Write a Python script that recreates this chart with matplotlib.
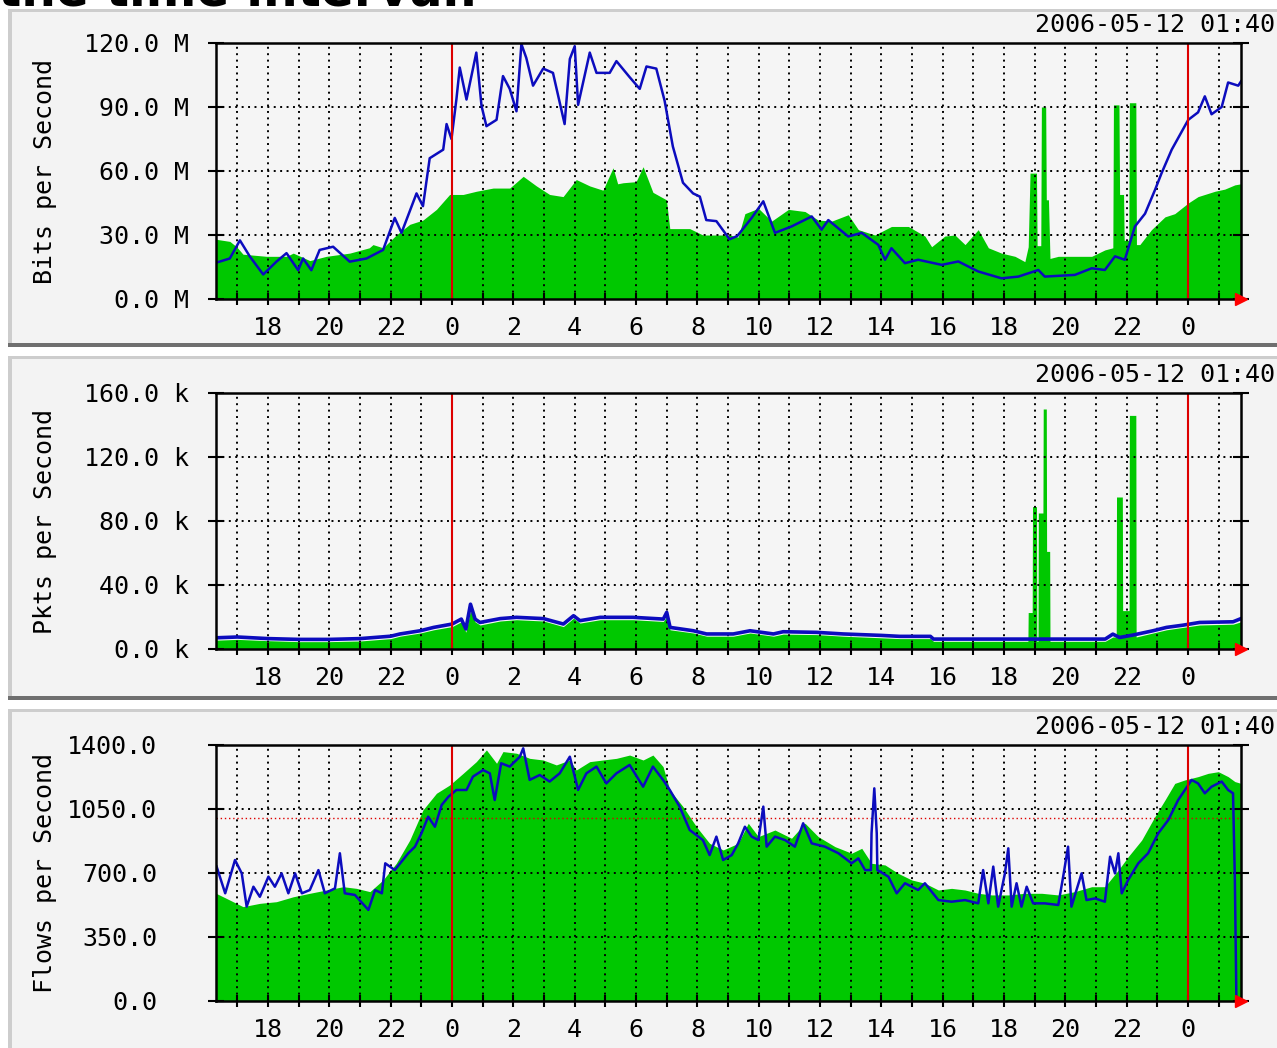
import matplotlib
matplotlib.use("Agg")
import matplotlib.pyplot as plt
from matplotlib.patches import Rectangle

# ==== DATA (hours since day 1 00:00; 24 = midnight, 48 = next midnight) ====
bits_in_h = [16.3, 16.75, 16.97, 17.18, 17.95, 18.6, 18.82, 19.36, 19.9, 20.66, 21.3, 21.42, 21.75,
             22.18, 22.62, 23.05, 23.49, 23.92, 24.36, 24.79, 25.34, 25.88, 26.32, 26.75, 27.18, 27.62,
             28.05, 28.49, 28.92, 29.25, 29.4, 29.58, 30.0, 30.23, 30.55, 30.99, 31.1, 31.75, 32.18,
             33.05, 33.33, 33.55, 33.99, 34.42, 34.97, 35.51, 35.94, 36.38, 36.92, 37.25, 37.79, 38.33,
             38.88, 39.42, 39.64, 40.07, 40.4, 40.73, 41.16, 41.49, 41.92, 42.36, 42.68, 42.79, 42.85,
             43.06, 43.08, 43.2, 43.22, 43.36, 43.38, 43.45, 43.5, 43.77, 44.86, 45.29, 45.55, 45.57,
             45.75, 45.77, 45.9, 45.92, 46.07, 46.09, 46.3, 46.32, 46.43, 46.81, 47.25, 47.57, 48.01,
             48.33, 48.88, 49.2, 49.53, 49.73]
bits_in = [28, 27, 24.5, 21, 20, 20, 21.5, 18, 20, 21.5, 24, 25.5, 24,
           30, 35, 37, 42, 49, 49, 50.5, 52, 52, 57.5, 53, 49, 48,
           56, 53, 51, 61.5, 54, 54.5, 55, 62, 50, 46.5, 33, 33, 30,
           30, 29, 40, 42.5, 36.5, 42, 41, 37, 36.5, 39.5, 32.5, 30, 34,
           34, 29.5, 24.5, 29.5, 30, 25.5, 32.5, 24, 21.5, 20, 17.5, 24.5, 59,
           59, 25, 25, 90, 90, 46.5, 46.5, 19, 20, 20, 23, 24, 91,
           91, 49, 49, 27.5, 27.5, 92, 92, 25.5, 25.5, 32.5, 38.5, 40, 45,
           48, 50.5, 51.5, 53.5, 54]

bits_out_h = [16.3, 16.75, 17.08, 17.4, 17.84, 18.27, 18.6, 18.98, 19.14, 19.41, 19.68, 20.12, 20.66,
              21.21, 21.75, 22.13, 22.35, 22.84, 23.05, 23.27, 23.71, 23.82, 23.98, 24.14, 24.25, 24.47,
              24.79, 24.96, 25.12, 25.45, 25.66, 25.88, 26.1, 26.26, 26.42, 26.64, 26.97, 27.29, 27.67,
              27.84, 28.0, 28.11, 28.49, 28.71, 29.14, 29.36, 29.79, 30.12, 30.34, 30.66, 30.93, 31.2,
              31.53, 31.86, 32.08, 32.29, 32.62, 33.05, 33.3, 33.77, 34.15, 34.53, 35.07, 35.73, 36.05,
              36.27, 36.92, 37.36, 37.9, 38.12, 38.33, 38.77, 39.2, 39.97, 40.51, 41.16, 41.92, 42.47,
              43.12, 43.33, 44.31, 44.86, 45.29, 45.62, 45.94, 46.27, 46.6, 46.93, 47.14, 47.47, 47.74,
              48.01, 48.33, 48.55, 48.77, 49.1, 49.31, 49.64, 49.73]
bits_out = [17, 19, 27.5, 20, 11.5, 17.5, 21.5, 13.5, 19, 13.5, 23, 24.5, 17.5,
            19, 23, 38, 31, 49.5, 43.5, 66, 70, 82, 75, 93.5, 108.5, 93.5,
            115.5, 90.5, 81, 84, 104.5, 98.5, 88, 119.5, 113, 100, 108, 106, 82,
            112.5, 118.5, 91, 115.5, 106, 106, 111.5, 104, 98.5, 109, 108, 93, 71.5,
            54.5, 49.5, 48, 37, 36.5, 28, 29.5, 38, 45.8, 31, 34, 38.7, 32.5,
            37, 29.3, 31, 25.4, 18.4, 23.8, 16.8, 18.4, 16, 17.6, 12.9, 9.7, 10.5,
            13.6, 10.5, 11.3, 14.4, 13.6, 20, 18.4, 34, 40, 51.3, 59, 70, 77,
            84, 87.5, 95, 86.6, 90, 101.5, 100, 102]

pkts_in_h = [16.3, 17.0, 18.0, 19.0, 20.0, 21.0, 22.0, 22.3, 22.96, 23.4, 24.0, 24.3, 24.45, 24.6,
             24.75, 24.91, 25.57, 26.1, 26.98, 27.63, 27.96, 28.17, 28.83, 29.9, 30.89, 31.0, 31.11,
             31.87, 32.3, 33.17, 33.72, 34.48, 34.8, 35.89, 36.76, 38.0, 38.6, 39.6, 39.7, 42.78,
             42.79, 42.92, 42.93, 43.06, 43.07, 43.11, 43.12, 43.27, 43.28, 43.38, 43.39, 43.49, 43.5,
             45.3, 45.55, 45.66, 45.67, 45.86, 45.87, 46.08, 46.09, 46.3, 46.31, 46.86, 47.3, 47.84,
             48.38, 49.47, 49.73]
pkts_in = [5.5, 6, 5.2, 4.6, 4.6, 5, 6.5, 8, 10, 12, 14, 17, 10.5, 24,
           17, 15, 17.5, 18.3, 17.5, 14, 19.3, 16.2, 18.3, 18.3, 17.2, 20.5, 12,
           10, 8, 8, 10, 8, 9.3, 9, 8, 7, 6.5, 6.5, 4.8, 4.8,
           22.8, 22.8, 89, 89, 4.8, 4.8, 85, 85, 150, 150, 61, 61, 4.8,
           4.8, 7.5, 7.5, 95, 95, 24, 24, 146, 146, 7.5, 10, 12, 13.5,
           15, 15.5, 17]

pkts_out_h = [16.3, 17.0, 18.0, 19.0, 20.0, 21.0, 22.0, 22.3, 22.96, 23.4, 24.0, 24.3, 24.45, 24.6,
              24.75, 24.91, 25.57, 26.1, 26.98, 27.63, 27.96, 28.17, 28.83, 29.9, 30.89, 31.0, 31.11,
              31.87, 32.3, 33.17, 33.72, 34.48, 34.8, 35.89, 36.76, 38.0, 38.6, 39.6, 39.7, 45.3,
              45.55, 45.77, 46.2, 46.86, 47.3, 47.84, 48.38, 49.47, 49.73]
pkts_out = [7, 7.5, 6.5, 6.0, 6.0, 6.5, 8, 9.4, 11.4, 13.5, 15.6, 18.7, 12.5, 28,
            18.7, 16.6, 19, 19.8, 19, 15.6, 20.8, 17.7, 19.8, 19.8, 18.7, 22.9, 13.5,
            11.4, 9.4, 9.4, 11.4, 9.4, 10.8, 10.4, 9.4, 8.5, 7.9, 7.9, 6.2, 6.2,
            9.3, 7.2, 8.7, 11.4, 13.5, 14.9, 16.6, 17, 19]

flows_in_h = [16.3, 16.75, 17.18, 17.73, 18.27, 18.82, 19.36, 19.9, 20.45, 20.88, 21.32, 21.75, 22.18,
              22.62, 23.05, 23.49, 23.92, 24.36, 24.79, 25.12, 25.45, 25.66, 26.1, 26.53, 26.97, 27.4,
              27.84, 28.05, 28.49, 28.92, 29.36, 29.79, 30.23, 30.55, 30.88, 31.1, 31.53, 31.97, 32.4,
              32.84, 33.33, 33.66, 33.99, 34.53, 35.07, 35.51, 35.94, 36.49, 37.03, 37.36, 37.68, 38.12,
              38.55, 38.99, 39.42, 39.86, 40.29, 40.73, 41.16, 41.6, 42.14, 42.68, 43.23, 43.77, 44.31,
              44.86, 45.29, 45.73, 46.05, 46.49, 46.92, 47.25, 47.57, 47.9, 48.33, 48.66, 48.99, 49.31,
              49.53, 49.73]
flows_in = [589, 552, 516, 534, 543, 570, 589, 607, 625, 616, 598, 662, 753,
            880, 1045, 1136, 1181, 1245, 1309, 1373, 1300, 1364, 1355, 1327, 1318, 1291,
            1318, 1263, 1309, 1318, 1327, 1345, 1318, 1345, 1282, 1154, 1063, 953, 862,
            826, 862, 972, 899, 935, 890, 972, 899, 844, 808, 835, 753, 744,
            698, 662, 644, 607, 616, 607, 589, 580, 580, 589, 589, 580, 598,
            625, 625, 716, 789, 880, 1008, 1099, 1190, 1209, 1227, 1245, 1254, 1227,
            1200, 1190]

flows_out_h = [16.32, 16.6, 16.92, 17.14, 17.3, 17.52, 17.73, 18.01, 18.22, 18.44, 18.66, 18.88, 19.1,
               19.36, 19.64, 19.85, 20.18, 20.34, 20.5, 20.83, 21.27, 21.49, 21.71, 21.82, 22.13, 22.57,
               22.79, 23.0, 23.22, 23.44, 23.66, 23.88, 24.14, 24.47, 24.68, 25.01, 25.23, 25.39, 25.6,
               25.88, 26.21, 26.32, 26.53, 26.86, 27.18, 27.51, 27.84, 28.11, 28.38, 28.71, 29.03, 29.36,
               29.79, 30.23, 30.55, 30.88, 31.1, 31.42, 31.75, 32.18, 32.4, 32.62, 32.84, 33.12, 33.33,
               33.55, 33.77, 33.99, 34.15, 34.26, 34.53, 34.86, 35.18, 35.45, 35.73, 36.16, 36.6, 37.03,
               37.25, 37.47, 37.66, 37.68, 37.77, 37.85, 37.87, 38.23, 38.5, 38.77, 39.2, 39.42, 39.86,
               40.29, 40.73, 41.16, 41.32, 41.49, 41.65, 41.81, 42.03, 42.14, 42.25, 42.41, 42.57, 42.74,
               42.95, 43.33, 43.77, 43.93, 44.09, 44.2, 44.53, 44.69, 44.97, 45.29, 45.46, 45.62, 45.73,
               45.84, 46.05, 46.38, 46.7, 47.03, 47.36, 47.68, 47.9, 48.12, 48.33, 48.55, 48.77, 49.1,
               49.31, 49.47, 49.53, 49.58]
flows_out = [735, 589, 771, 698, 516, 625, 570, 680, 625, 698, 589, 698, 589,
             607, 716, 589, 616, 808, 589, 580, 498, 607, 589, 753, 716, 808,
             844, 917, 1008, 953, 1072, 1117, 1154, 1154, 1227, 1263, 1245, 1099, 1300,
             1282, 1336, 1382, 1209, 1236, 1200, 1245, 1336, 1154, 1245, 1282, 1190, 1245,
             1291, 1172, 1282, 1209, 1154, 1063, 935, 880, 798, 899, 771, 798, 862,
             953, 899, 880, 1063, 844, 899, 880, 844, 972, 862, 844, 808, 753,
             780, 716, 716, 917, 1163, 917, 716, 680, 589, 644, 607, 644, 552,
             543, 552, 534, 716, 534, 735, 516, 698, 835, 516, 644, 516, 625,
             534, 534, 525, 680, 844, 516, 698, 552, 561, 543, 789, 698, 808,
             589, 662, 753, 808, 917, 990, 1099, 1154, 1209, 1190, 1136, 1172, 1200,
             1154, 1136, 662, 0]

panels = [
    dict(name="Bits per Second", in_h=bits_in_h, in_v=bits_in, out_h=bits_out_h, out_v=bits_out,
         ymax=120, yticks=[0, 30, 60, 90, 120],
         ylabels=["0.0 M", "30.0 M", "60.0 M", "90.0 M", "120.0 M"], lw=1.8, hline=None),
    dict(name="Pkts per Second", in_h=pkts_in_h, in_v=pkts_in, out_h=pkts_out_h, out_v=pkts_out,
         ymax=160, yticks=[0, 40, 80, 120, 160],
         ylabels=["0.0 k", "40.0 k", "80.0 k", "120.0 k", "160.0 k"], lw=2.6, hline=None),
    dict(name="Flows per Second", in_h=flows_in_h, in_v=flows_in, out_h=flows_out_h, out_v=flows_out,
         ymax=1400, yticks=[0, 350, 700, 1050, 1400],
         ylabels=["0.0", "350.0", "700.0", "1050.0", "1400.0"], lw=1.8, hline=1000),
]
stamp = "2006-05-12 01:40"
xmin, xmax = 16.3, 49.73

# ==== LAYOUT (pixels, from top left) ====
W, H = 1277, 1048
MONO = "DejaVu Sans Mono"
GREEN = "#00c800"
BLUE = "#0c0cbe"
RED = "#dd0000"

fig = plt.figure(figsize=(W / 100, H / 100), dpi=100)
fig.patch.set_facecolor("white")


def rect(x0, y0, x1, y1, **kw):
    fig.patches.append(Rectangle((x0 / W, 1 - y1 / H), (x1 - x0) / W, (y1 - y0) / H,
                                 transform=fig.transFigure, zorder=-10, **kw))


# cut-off heading at the very top (only its lower edge is in the picture)
fig.text(-2 / W, 1 - 6 / H, "the time interval.", fontsize=35, fontweight="bold",
         color="black", ha="left", va="baseline")

frames = [(9, 347), (356, 700), (709, 1060)]
plot_tops = [43, 393, 745]
plot_h = 256
left, right = 216, 1241

for (fy0, fy1), top, p in zip(frames, plot_tops, panels):
    rect(8, fy0, 1290, fy1, facecolor="#f3f3f3", edgecolor="none")
    rect(8, fy0, 1290, fy0 + 3, facecolor="#cdcdcd", edgecolor="none")
    rect(8, fy0, 12, fy1, facecolor="#cdcdcd", edgecolor="none")
    rect(8, fy1 - 4, 1290, fy1, facecolor="#6f6f6f", edgecolor="none")

    ax = fig.add_axes([left / W, 1 - (top + plot_h) / H, (right - left) / W, plot_h / H])
    ax.set_facecolor("#f5f5f5")
    ax.set_xlim(xmin, xmax)
    ax.set_ylim(0, p["ymax"])

    ax.fill_between(p["in_h"], p["in_v"], 0, color=GREEN, lw=0, zorder=1)

    for h in range(17, 50):
        ax.axvline(h, color="black", lw=1.4, ls=(0, (1, 2.3)), zorder=2)
    for v in p["yticks"][1:-1]:
        ax.axhline(v, color="black", lw=1.4, ls=(0, (1, 2.3)), zorder=2)
    if p["hline"]:
        ax.axhline(p["hline"], color=RED, lw=1.0, ls=(0, (1, 2)), zorder=2)

    ax.plot(p["out_h"], p["out_v"], color=BLUE, lw=p["lw"], zorder=3)

    for h in (24, 48):
        ax.axvline(h, color=RED, lw=1.5, zorder=4)

    ax.plot([xmax], [0], marker=">", color="red", markersize=9, clip_on=False, zorder=6)

    for s in ax.spines.values():
        s.set_linewidth(1.8)
        s.set_color("black")
        s.set_zorder(5)

    hours = list(range(17, 50))
    ax.set_xticks(hours, [str(h % 24) if h % 2 == 0 else "" for h in hours])
    ax.set_yticks(p["yticks"], p["ylabels"])
    ax.tick_params(axis="x", direction="inout", length=9, width=1.5, pad=8,
                   labelsize=18)
    ax.tick_params(axis="y", direction="inout", length=11, width=1.5, pad=14,
                   labelsize=18, right=True)
    for lab in ax.get_xticklabels() + ax.get_yticklabels():
        lab.set_fontfamily(MONO)
    if p["hline"]:
        ax.tick_params(axis="y", pad=37)

    fig.text(45 / W, 1 - (top + plot_h / 2) / H, p["name"], rotation=90, fontsize=18,
             fontfamily=MONO, ha="center", va="center")
    fig.text(1035 / W, 1 - (top - 18) / H, stamp, fontsize=18, fontfamily=MONO,
             ha="left", va="center")

fig.savefig("out.png", dpi=100, facecolor="white")
